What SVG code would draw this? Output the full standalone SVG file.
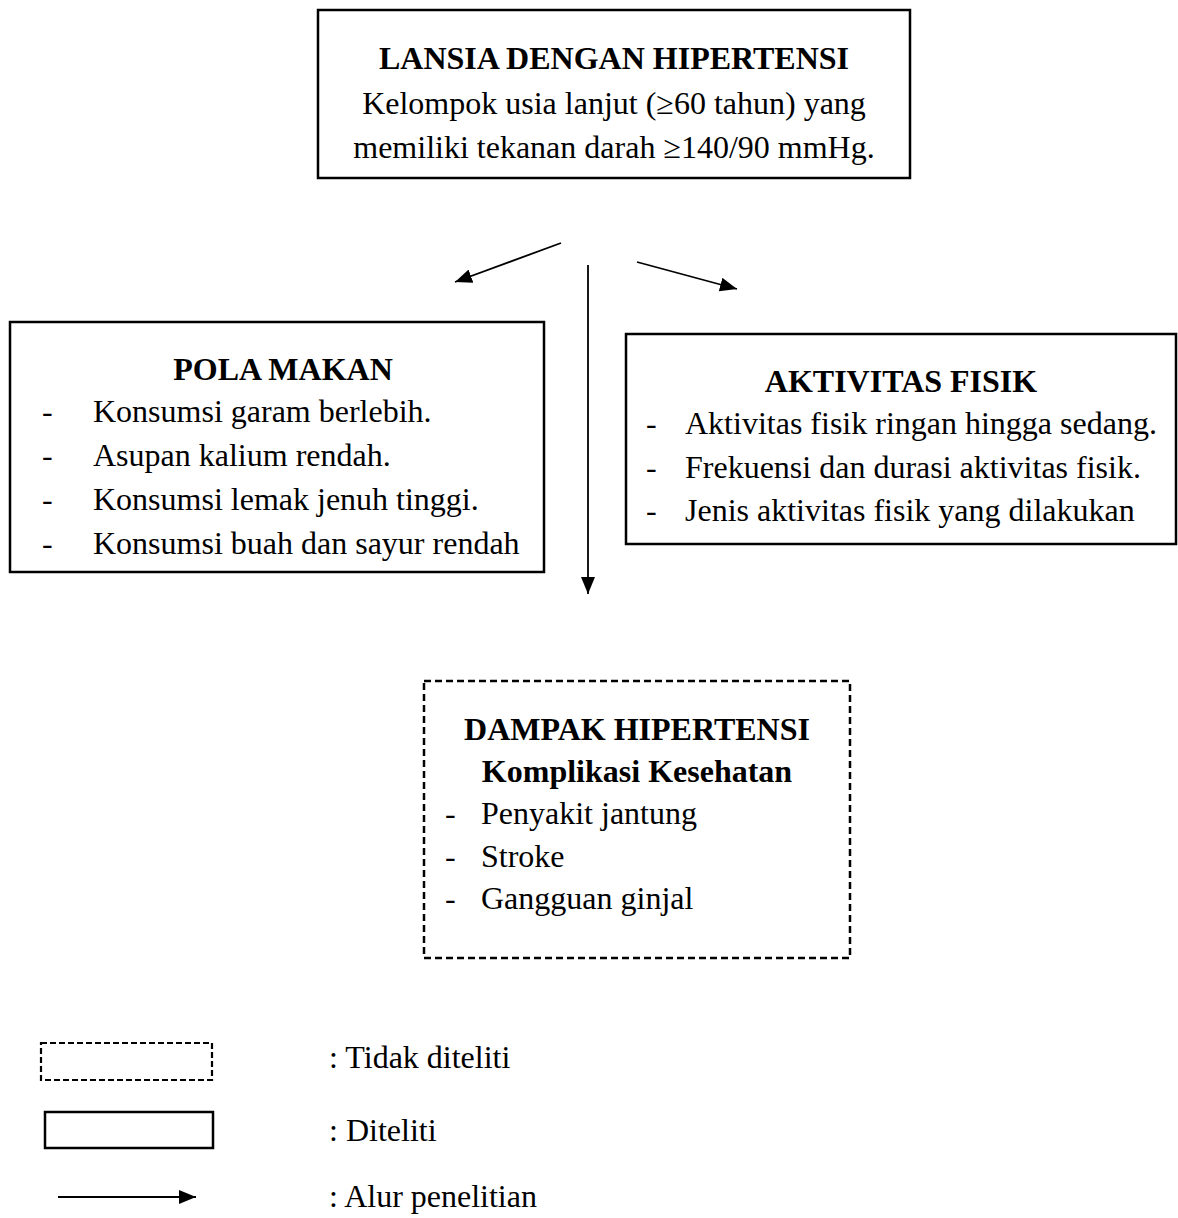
<svg xmlns="http://www.w3.org/2000/svg" width="1178" height="1218" viewBox="0 0 1178 1218">
<style>
text{font-family:"Liberation Serif","Times New Roman",serif;font-size:32px;fill:#000}
.b{font-weight:bold}
.box{fill:#fff;stroke:#000;stroke-width:2.5}
.dash{fill:#fff;stroke:#000;stroke-width:2.5;stroke-dasharray:7 4}
.ln{stroke:#000;stroke-width:1.8;fill:none}
</style>
<defs>
<marker id="ahb" viewBox="0 0 10 10" refX="10" refY="5" markerWidth="17" markerHeight="14" markerUnits="userSpaceOnUse" orient="auto" preserveAspectRatio="none">
<path d="M0,0 L10,5 L0,10 z" fill="#000"/>
</marker>
</defs>
<g id="node-lansia">
<rect class="box" x="318" y="10" width="592" height="168"/>
<text class="b" x="614" y="69" text-anchor="middle">LANSIA DENGAN HIPERTENSI</text>
<text x="614" y="114" text-anchor="middle">Kelompok usia lanjut (≥60 tahun) yang</text>
<text x="614" y="158" text-anchor="middle">memiliki tekanan darah ≥140/90 mmHg.</text>
</g>
<g id="node-pola">
<rect class="box" x="10" y="322" width="534" height="250"/>
<text class="b" x="283" y="380" text-anchor="middle">POLA MAKAN</text>
<text x="42" y="422">-</text><text x="93" y="422">Konsumsi garam berlebih.</text>
<text x="42" y="466">-</text><text x="93" y="466">Asupan kalium rendah.</text>
<text x="42" y="510">-</text><text x="93" y="510">Konsumsi lemak jenuh tinggi.</text>
<text x="42" y="554">-</text><text x="93" y="554">Konsumsi buah dan sayur rendah</text>
</g>
<g id="node-aktivitas">
<rect class="box" x="626" y="334" width="550" height="210"/>
<text class="b" x="901" y="392" text-anchor="middle">AKTIVITAS FISIK</text>
<text x="646" y="434">-</text><text x="685" y="434">Aktivitas fisik ringan hingga sedang.</text>
<text x="646" y="478">-</text><text x="685" y="478">Frekuensi dan durasi aktivitas fisik.</text>
<text x="646" y="521">-</text><text x="685" y="521">Jenis aktivitas fisik yang dilakukan</text>
</g>
<g id="node-dampak">
<rect class="dash" x="424" y="681" width="426" height="277"/>
<text class="b" x="637" y="740" text-anchor="middle">DAMPAK HIPERTENSI</text>
<text class="b" x="637" y="782" text-anchor="middle">Komplikasi Kesehatan</text>
<text x="445" y="824">-</text><text x="481" y="824">Penyakit jantung</text>
<text x="445" y="867">-</text><text x="481" y="867">Stroke</text>
<text x="445" y="909">-</text><text x="481" y="909">Gangguan ginjal</text>
</g>
<g id="connectors">
<line class="ln" x1="561" y1="243" x2="455" y2="282" marker-end="url(#ahb)"/>
<line class="ln" x1="637" y1="262" x2="737" y2="289" marker-end="url(#ahb)"/>
<line class="ln" x1="588" y1="265" x2="588" y2="594" marker-end="url(#ahb)"/>
</g>
<g id="legend">
<rect class="dash" x="41" y="1043" width="171" height="37" style="stroke-width:2.2;stroke-dasharray:6 3"/>
<text x="329" y="1068">: Tidak diteliti</text>
<rect class="box" x="45" y="1112" width="168" height="36"/>
<text x="329" y="1141">: Diteliti</text>
<line class="ln" x1="58" y1="1197" x2="196" y2="1197" marker-end="url(#ahb)"/>
<text x="329" y="1207">: Alur penelitian</text>
</g>
</svg>
